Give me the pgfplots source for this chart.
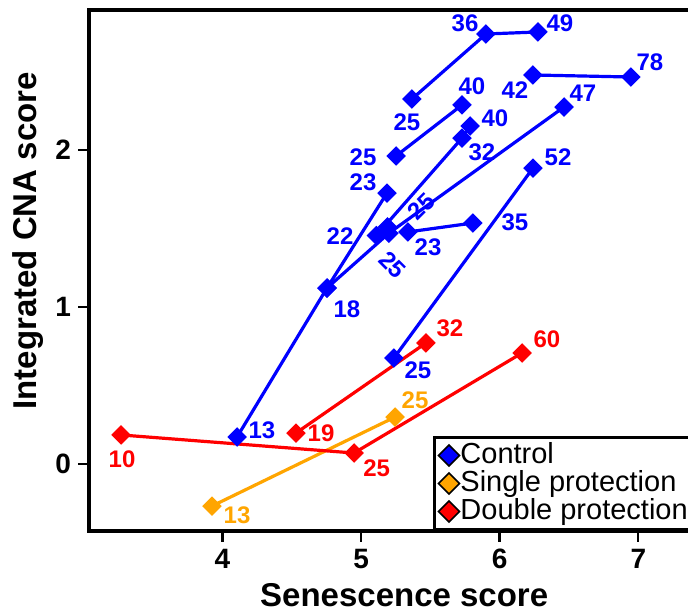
\documentclass[border=0pt]{standalone}
\usepackage{fontspec}
\setmainfont{Liberation Sans}
\usepackage{pgfplots}
\pgfplotsset{compat=1.18}
\usetikzlibrary{calc}
\definecolor{ctrl}{RGB}{0,0,255}
\definecolor{sglorange}{RGB}{255,165,0}
\definecolor{dblred}{RGB}{255,0,0}

\begin{document}
\begin{tikzpicture}[
  lbl/.style={font=\bfseries\fontsize{12pt}{12pt}\selectfont, inner sep=0pt},
]
\begin{axis}[
  scale only axis, width=302.5pt, height=260.5pt,
  xmin=3.0368, xmax=7.402, ymin=-0.4268, ymax=2.892,
  clip=false,
  axis line style={line width=2pt},
  xtick={4,5,6,7}, ytick={0,1,2},
  tick align=outside, tick pos=left, major tick length=5.5pt,
  every tick/.style={black, line width=1.2pt},
  /pgf/number format/assume math mode=true,
  ticklabel style={font=\bfseries\fontsize{14pt}{14pt}\selectfont},
  xlabel={Senescence score}, ylabel={Integrated CNA score},
  label style={font=\bfseries\fontsize{16.5pt}{16.5pt}\selectfont},
  xlabel style={at={(rel axis cs:0.521,-0.123)}, anchor=center},
  ylabel style={at={(rel axis cs:-0.1008,0.557)}, anchor=center},
  legend style={at={(rel axis cs:0.5686,0)}, anchor=south west, draw=black,
    line width=1.5pt, inner sep=2pt,
    font=\fontsize{14.5pt}{14.5pt}\selectfont,
    nodes={inner sep=0.5pt, text height=10.4pt, text depth=2.6pt},
    row sep=0pt},
  legend cell align=left,
  legend image code/.code={\draw[#1] plot coordinates {(0pt,0pt)};},
  traj/.style={line width=1.6pt, mark=square*, mark size=3.2pt,
    mark options={rotate=45, solid, line width=0.5pt}, forget plot},
]

% Control animals
\addplot[ctrl, traj] coordinates {(4.105,0.172) (4.754,1.121) (5.187,1.726)};
\addplot[ctrl, traj] coordinates {(4.754,1.121) (5.200,1.470) (6.464,2.274)};
\addplot[ctrl, traj] coordinates {(5.338,1.478) (5.807,1.535)};
\addplot[ctrl, traj] coordinates {(5.110,1.455) (5.728,2.076) (5.786,2.153)};
\addplot[ctrl, traj] coordinates {(5.190,1.510)};
\addplot[ctrl, traj] coordinates {(5.237,0.675) (6.240,1.885)};
\addplot[ctrl, traj] coordinates {(5.252,1.962) (5.728,2.287)};
\addplot[ctrl, traj] coordinates {(5.367,2.325) (5.901,2.739) (6.276,2.752)};
\addplot[ctrl, traj] coordinates {(6.240,2.478) (6.947,2.465)};

% Single protection
\addplot[sglorange, traj] coordinates {(3.924,-0.268) (5.245,0.299)};

% Double protection
\addplot[dblred, traj] coordinates {(3.268,0.185) (4.949,0.070) (6.161,0.707)};
\addplot[dblred, traj] coordinates {(4.530,0.197) (5.468,0.771)};

% Age labels
\node[lbl, text=ctrl] at (axis cs:5.750,2.809) {36};
\node[lbl, text=ctrl] at (axis cs:6.435,2.809) {49};
\node[lbl, text=ctrl] at (axis cs:7.084,2.561) {78};
\node[lbl, text=ctrl] at (axis cs:6.110,2.382) {42};
\node[lbl, text=ctrl] at (axis cs:5.331,2.178) {25};
\node[lbl, text=ctrl] at (axis cs:5.800,2.408) {40};
\node[lbl, text=ctrl] at (axis cs:6.601,2.363) {47};
\node[lbl, text=ctrl] at (axis cs:5.966,2.204) {40};
\node[lbl, text=ctrl] at (axis cs:5.872,1.987) {32};
\node[lbl, text=ctrl] at (axis cs:5.014,1.955) {25};
\node[lbl, text=ctrl] at (axis cs:6.421,1.955) {52};
\node[lbl, text=ctrl] at (axis cs:5.014,1.796) {23};
\node[lbl, text=ctrl, rotate=45] at (axis cs:5.435,1.640) {25};
\node[lbl, text=ctrl] at (axis cs:4.848,1.452) {22};
\node[lbl, text=ctrl] at (axis cs:5.483,1.382) {23};
\node[lbl, text=ctrl] at (axis cs:6.110,1.541) {35};
\node[lbl, text=ctrl, rotate=-45] at (axis cs:5.225,1.270) {25};
\node[lbl, text=ctrl] at (axis cs:4.898,0.987) {18};
\node[lbl, text=ctrl] at (axis cs:5.410,0.599) {25};
\node[lbl, text=ctrl] at (axis cs:4.284,0.212) {13};
\node[lbl, text=dblred] at (axis cs:3.275,0.032) {10};
\node[lbl, text=dblred] at (axis cs:5.112,-0.025) {25};
\node[lbl, text=dblred] at (axis cs:4.711,0.197) {19};
\node[lbl, text=dblred] at (axis cs:5.641,0.866) {32};
\node[lbl, text=dblred] at (axis cs:6.341,0.796) {60};
\node[lbl, text=sglorange] at (axis cs:5.389,0.408) {25};
\node[lbl, text=sglorange] at (axis cs:4.105,-0.325) {13};

\addlegendimage{mark=square*, mark size=3.7pt, mark options={rotate=45, fill=ctrl, draw=black, line width=0.8pt}}
\addlegendentry{Control}
\addlegendimage{mark=square*, mark size=3.7pt, mark options={rotate=45, fill=sglorange, draw=black, line width=0.8pt}}
\addlegendentry{Single protection}
\addlegendimage{mark=square*, mark size=3.7pt, mark options={rotate=45, fill=dblred, draw=black, line width=0.8pt}}
\addlegendentry{Double protection}
\end{axis}
\pgfresetboundingbox
\path[use as bounding box] ($(current axis.south west)+(-44.5pt,-41pt)$) rectangle ($(current axis.south west)+(299.5pt,265.5pt)$);
\end{tikzpicture}
\end{document}
